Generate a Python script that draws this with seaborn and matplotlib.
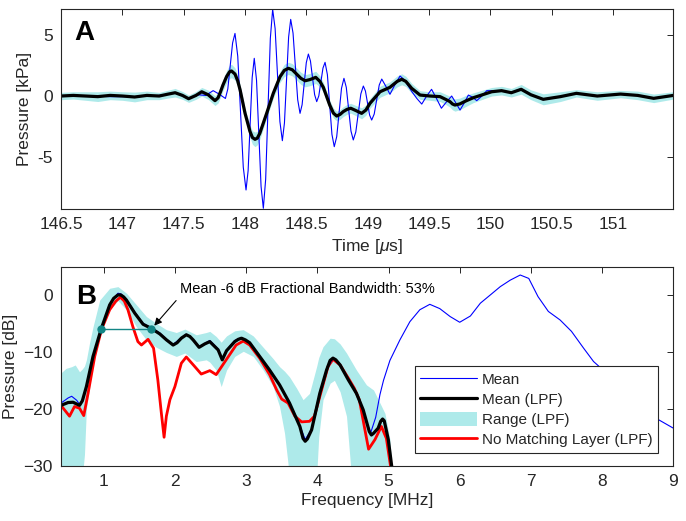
import numpy as np
import pandas as pd
import matplotlib
matplotlib.use("Agg")
import matplotlib.pyplot as plt
import seaborn as sns
from matplotlib.patches import Patch
from matplotlib.lines import Line2D

# ---------------- dados painel A (tempo em us, pressao em kPa) ----------------
t_raw = [146.50, 146.70, 146.90, 147.10, 147.30, 147.43, 147.54, 147.62, 147.68, 147.74,
         147.79, 147.84, 147.8595, 147.8985, 147.918, 147.9405, 147.9855, 148.008, 148.025,
         148.058, 148.075, 148.0935, 148.1305, 148.149, 148.168, 148.206, 148.225, 148.245,
         148.284, 148.304, 148.321, 148.355, 148.372, 148.391, 148.429, 148.448, 148.465,
         148.499, 148.516, 148.533, 148.567, 148.584, 148.601, 148.635, 148.652, 148.671,
         148.708, 148.727, 148.747, 148.786, 148.806, 148.825, 148.863, 148.882, 148.9025,
         148.9435, 148.964, 148.981, 149.015, 149.032, 149.0525, 149.0935, 149.114, 149.15,
         149.181, 149.22, 149.263, 149.30, 149.36, 149.40, 149.44, 149.48, 149.52, 149.56,
         149.60, 149.64, 149.684, 149.72, 149.752, 149.79, 149.82, 149.855, 149.888, 149.93,
         149.97, 150.09, 150.17, 150.25, 150.33, 150.43, 150.57, 150.70, 150.87, 151.06,
         151.20, 151.33, 151.49]
p_raw = [0.00, 0.02, -0.05, -0.05, 0.05, 0.25, -0.20, 0.10, 0.05, 0.44,
         0.15, -0.20, 0.58, 4.35, 5.13, 3.26, -5.83, -7.70, -6.12,
         1.51, 3.09, 1.30, -7.41, -9.20, -6.82, 4.72, 7.10, 5.53,
         -2.09, -3.66, -2.21, 4.83, 6.28, 5.16, -0.30, -1.42, -0.71,
         2.73, 3.44, 2.87, 0.11, -0.46, 0.01, 2.29, 2.76, 1.75,
         -3.14, -4.15, -3.33, 0.63, 1.45, 0.71, -2.86, -3.60, -2.95,
         0.17, 0.82, 0.41, -1.56, -1.97, -1.48, 0.90, 1.39, 0.75,
         0.14, 0.90, 1.64, 1.30, 0.35, -0.20, -0.66, 0.00, 0.55, -0.20,
         -1.00, -0.50, 0.00, -0.60, -1.15, -0.50, 0.08, -0.10, -0.38, 0.00,
         0.44, 0.42, 0.30, 0.60, 0.10, -0.30, -0.05, 0.22, 0.00, 0.16,
         0.05, -0.19, 0.05]

t_lpf = [146.50, 146.60, 146.70, 146.80, 146.90, 147.00, 147.10, 147.20, 147.30, 147.37,
         147.43, 147.49, 147.54, 147.60, 147.647, 147.70, 147.755, 147.78, 147.80, 147.82,
         147.85, 147.875, 147.89, 147.918, 147.94, 147.96, 148.00, 148.04, 148.06, 148.081,
         148.10, 148.12, 148.176, 148.23, 148.285, 148.32, 148.353, 148.385, 148.42, 148.455,
         148.489, 148.53, 148.576, 148.61, 148.638, 148.69, 148.72, 148.747, 148.775, 148.80,
         148.83, 148.861, 148.905, 148.95, 148.985, 149.018, 149.10, 149.18, 149.24, 149.277,
         149.31, 149.358, 149.426, 149.507, 149.589, 149.64, 149.67, 149.69, 149.71, 149.75,
         149.80, 149.86, 150.01, 150.09, 150.17, 150.25, 150.33, 150.43, 150.57, 150.70,
         150.87, 151.06, 151.20, 151.33, 151.49]
p_lpf = [0.00, 0.05, 0.00, -0.05, 0.05, 0.00, -0.08, 0.05, 0.00, 0.15,
         0.27, 0.05, -0.22, 0.05, 0.35, 0.10, -0.38, -0.15, 0.35, 0.90,
         1.60, 2.00, 2.05, 1.80, 1.25, 0.49, -1.42, -2.90, -3.40, -3.55,
         -3.45, -3.06, -1.42, 0.22, 1.58, 2.10, 2.27, 2.15, 1.80, 1.45,
         1.25, 1.35, 1.53, 1.20, 0.71, -0.74, -1.40, -1.64, -1.50, -1.28,
         -1.10, -1.00, -1.20, -1.42, -1.15, -0.60, 0.35, 0.71, 1.20, 1.37,
         1.20, 0.63, 0.08, 0.00, -0.05, -0.30, -0.46, -0.65, -0.74, -0.65,
         -0.40, -0.14, 0.35, 0.44, 0.27, 0.55, 0.10, -0.27, -0.05, 0.22,
         0.00, 0.16, 0.05, -0.19, 0.05]
# meia largura da faixa (Range LPF) em cada ponto
p_half = [0.30, 0.30, 0.35, 0.40, 0.35, 0.35, 0.40, 0.35, 0.30, 0.32,
          0.35, 0.32, 0.30, 0.32, 0.35, 0.38, 0.40, 0.42, 0.45, 0.45,
          0.50, 0.55, 0.55, 0.50, 0.45, 0.40, 0.40, 0.50, 0.55, 0.60,
          0.55, 0.50, 0.40, 0.40, 0.45, 0.50, 0.50, 0.50, 0.50, 0.50,
          0.50, 0.50, 0.50, 0.45, 0.40, 0.40, 0.40, 0.40, 0.40, 0.40,
          0.40, 0.40, 0.42, 0.45, 0.42, 0.40, 0.45, 0.45, 0.45, 0.45,
          0.42, 0.40, 0.35, 0.35, 0.40, 0.42, 0.45, 0.48, 0.50, 0.48,
          0.45, 0.40, 0.35, 0.35, 0.35, 0.40, 0.40, 0.45, 0.40, 0.30,
          0.35, 0.30, 0.35, 0.35, 0.30]

# ---------------- dados painel B (frequencia em MHz, pressao em dB) ----------------
f_mean = [0.40, 0.50, 0.55, 0.62, 0.66, 0.70, 0.757, 0.85, 0.968, 1.084, 1.20, 1.24, 1.319,
          1.436, 1.553, 1.671, 1.788, 1.882, 1.975, 2.09, 2.16, 2.256, 2.34, 2.49, 2.607,
          2.665, 2.725, 2.84, 2.935, 3.05, 3.19, 3.33, 3.47, 3.61, 3.755, 3.83, 3.92, 4.035,
          4.13, 4.22, 4.32, 4.435, 4.55, 4.645, 4.70, 4.75, 4.82, 4.88, 4.93, 5.02, 5.16,
          5.30, 5.44, 5.58, 5.72, 5.866, 6.00, 6.15, 6.29, 6.43, 6.57, 6.71, 6.85, 6.97,
          7.10, 7.245, 7.41, 7.57, 7.74, 7.88, 7.97, 8.20, 8.50, 8.79, 9.00]
db_mean = [-19.0, -18.1, -17.8, -18.5, -19.2, -18.5, -16.0, -10.7, -5.8, -1.6, 0.3, 0.2, -0.8,
           -3.0, -5.0, -5.8, -6.7, -7.8, -8.7, -7.5, -6.9, -7.8, -9.1, -8.0, -9.5,
           -11.3, -9.7, -8.0, -7.5, -8.3, -10.7, -13.1, -15.7, -18.9, -23.0, -25.4, -23.6, -17.2,
           -13.1, -11.1, -12.2, -14.8, -17.2, -20.1, -22.6, -24.2, -21.5, -17.5, -15.0, -11.5, -7.9,
           -4.7, -2.6, -1.65, -2.4, -3.8, -4.8, -3.7, -1.45, 0.0, 1.46, 2.6, 3.5, 2.9,
           -0.3, -2.9, -4.4, -6.4, -9.35, -11.7, -12.7, -15.5, -19.0, -21.9, -23.4]

f_lpf = [0.40, 0.50, 0.57, 0.66, 0.70, 0.757, 0.85, 0.968, 1.084, 1.14, 1.20, 1.24, 1.28,
         1.319, 1.436, 1.553, 1.671, 1.788, 1.882, 1.975, 2.03, 2.09, 2.16, 2.21, 2.256,
         2.34, 2.42, 2.49, 2.607, 2.665, 2.725, 2.84, 2.89, 2.935, 2.99, 3.05, 3.19, 3.33,
         3.47, 3.61, 3.755, 3.80, 3.83, 3.86, 3.92, 4.035, 4.13, 4.18, 4.22, 4.26, 4.32,
         4.435, 4.55, 4.645, 4.73, 4.76, 4.79, 4.855, 4.89, 4.917, 4.94, 4.997, 5.045, 5.10]
db_lpf = [-19.4, -18.9, -18.85, -19.4, -18.6, -16.1, -10.8, -5.85, -1.75, -0.6, 0.0, 0.0, -0.35,
          -0.9, -3.2, -5.15, -5.9, -6.85, -7.9, -8.8, -8.4, -7.6, -7.0, -7.3, -7.9,
          -9.2, -8.6, -8.2, -9.65, -11.4, -9.8, -8.2, -7.8, -7.6, -7.9, -8.4, -10.8, -13.2,
          -15.8, -19.0, -23.1, -25.2, -25.7, -25.3, -23.7, -17.3, -13.2, -11.5, -11.1, -11.4, -12.3,
          -14.9, -17.3, -20.2, -24.0, -24.6, -24.3, -23.4, -22.2, -21.8, -22.1, -25.4, -30.1, -40.0]

f_nml = [0.40, 0.45, 0.52, 0.59, 0.66, 0.72, 0.78, 0.874, 0.968, 1.084, 1.17, 1.235, 1.29,
         1.34, 1.41, 1.48, 1.53, 1.623, 1.70, 1.76, 1.81, 1.848, 1.88, 1.93, 2.00, 2.09,
         2.16, 2.28, 2.37, 2.49, 2.58, 2.72, 2.86, 2.96, 3.05, 3.19, 3.33, 3.43, 3.50,
         3.59, 3.685, 3.78, 3.89, 3.96, 4.06, 4.15, 4.22, 4.32, 4.435, 4.52, 4.59, 4.66,
         4.72, 4.81, 4.90, 4.97, 5.03, 5.08]
db_nml = [-19.4, -20.2, -21.3, -19.6, -19.9, -21.2, -17.3, -10.8, -6.1, -2.6, -1.1, -0.4, -1.1,
          -2.6, -5.6, -8.2, -8.8, -7.8, -9.35, -14.9, -20.8, -25.0, -21.3, -18.4, -16.1, -12.0,
          -10.9, -12.6, -13.9, -13.3, -14.0, -11.4, -8.8, -8.1, -8.8, -11.1, -14.0, -16.7, -18.3,
          -19.0, -21.3, -22.3, -22.2, -21.3, -16.7, -12.6, -11.3, -12.3, -14.6, -16.4, -18.4, -23.1,
          -27.1, -25.4, -23.1, -25.2, -30.2, -40.0]

f_band = [0.40, 0.47, 0.55, 0.60, 0.66, 0.70, 0.73, 0.757, 0.80, 0.85, 0.944, 1.084, 1.20,
          1.32, 1.46, 1.60, 1.74, 1.88, 2.02, 2.14, 2.30, 2.44, 2.49, 2.58, 2.65, 2.725,
          2.84, 2.96, 3.10, 3.24, 3.38, 3.47, 3.54, 3.61, 3.71, 3.80, 3.89, 3.99, 4.02,
          4.08, 4.18, 4.24, 4.32, 4.41, 4.48, 4.55, 4.69, 4.79, 4.88, 4.95, 5.02, 5.045, 5.06]
db_band_hi = [-13.7, -12.9, -12.6, -12.3, -13.5, -13.0, -12.5, -11.4, -8.5, -5.6, -0.9, 1.17, 1.46,
              0.3, -1.75, -3.8, -5.0, -6.1, -6.6, -6.0, -7.0, -6.6, -6.4, -7.3, -8.3, -7.2,
              -6.3, -6.1, -7.2, -9.2, -11.2, -12.6, -13.4, -14.4, -16.4, -18.4, -17.3, -12.6, -11.0,
              -9.1, -7.6, -7.7, -8.6, -10.2, -11.7, -13.2, -15.8, -16.7, -19.0, -20.8, -25.4, -30.0, -32.0]
db_band_lo = [-32.0, -32.0, -32.0, -32.0, -32.0, -32.0, -28.0, -20.0, -16.5, -12.0, -6.7, -2.6, -1.0,
              -2.6, -5.6, -7.9, -9.2, -10.1, -10.8, -10.2, -11.7, -11.4, -11.8, -13.2, -16.1, -13.2,
              -10.8, -9.9, -10.8, -13.2, -16.1, -19.6, -24.3, -32.0, -32.0, -32.0, -32.0, -32.0, -24.9,
              -18.4, -15.5, -15.0, -17.0, -21.3, -32.0, -32.0, -32.0, -32.0, -32.0, -32.0, -32.0, -32.0, -32.0]

# pontos de -6 dB
f_bw = [0.96, 1.67]
db_bw = [-6.0, -6.0]

# ---------------- estilo ----------------
sns.set_theme(style="white")
plt.rcParams['font.family'] = ['Liberation Sans', 'DejaVu Sans']
plt.rcParams['mathtext.fontset'] = 'custom'
plt.rcParams['mathtext.rm'] = 'Liberation Sans'
plt.rcParams['mathtext.it'] = 'Liberation Sans:italic'

cor_faixa = '#aeeaea'
cor_eixo = '#262626'
cor_teal = '#138585'

fig = plt.figure(figsize=(6.86, 5.21), dpi=100)
axA = fig.add_axes([0.0889, 0.5988, 0.8926, 0.3839])
axB = fig.add_axes([0.0889, 0.1061, 0.8926, 0.3808])


def estilo(ax):
    for s in ax.spines.values():
        s.set_color(cor_eixo)
        s.set_linewidth(0.8)
    ax.tick_params(direction='in', top=True, right=True, length=4, width=0.7,
                   color=cor_eixo, labelcolor=cor_eixo, labelsize=12.5, pad=6)


# ---------------- painel A ----------------
lo_a = [p - h for p, h in zip(p_lpf, p_half)]
hi_a = [p + h for p, h in zip(p_lpf, p_half)]
axA.fill_between(t_lpf, lo_a, hi_a, color=cor_faixa, lw=0)
sns.lineplot(x=t_raw, y=p_raw, ax=axA, color='#0000ff', lw=0.8, estimator=None, sort=False)
sns.lineplot(x=t_lpf, y=p_lpf, ax=axA, color='black', lw=2.3, estimator=None, sort=False)
axA.set_xlim(146.5, 151.49)
axA.set_ylim(-9.26, 7.13)
axA.set_xticks(np.arange(146.5, 151.01, 0.5))
axA.set_xticklabels(['146.5', '147', '147.5', '148', '148.5', '149', '149.5', '150', '150.5', '151'])
axA.set_yticks([-5, 0, 5])
axA.set_yticklabels(['-5', '0', '5'])
axA.set_xlabel(r'Time [$\mu$s]', fontsize=12.5, color=cor_eixo, labelpad=3)
axA.set_ylabel('Pressure [kPa]', fontsize=12.5, color=cor_eixo, labelpad=4)
axA.text(0.021, 0.945, 'A', transform=axA.transAxes, fontsize=20, fontweight='bold',
         ha='left', va='top', color='black')
estilo(axA)

# ---------------- painel B ----------------
axB.fill_between(f_band, db_band_lo, db_band_hi, color=cor_faixa, lw=0)
sns.lineplot(x=f_nml, y=db_nml, ax=axB, color='#ff0000', lw=2.0, estimator=None, sort=False)
sns.lineplot(x=f_mean, y=db_mean, ax=axB, color='#0000ff', lw=0.8, estimator=None, sort=False)
sns.lineplot(x=f_lpf, y=db_lpf, ax=axB, color='black', lw=2.3, estimator=None, sort=False)
axB.plot(f_bw, db_bw, color=cor_teal, lw=1.0, marker='o', ms=5, zorder=5)
axB.annotate('Mean -6 dB Fractional Bandwidth: 53%', xy=(1.71, -5.4), xytext=(2.07, 1.0),
             fontsize=10.5, ha='left', va='center', color='black',
             arrowprops=dict(arrowstyle='-|>', color='black', lw=0.8, shrinkA=1, shrinkB=0,
                             mutation_scale=11, relpos=(0.0, 0.0)))
axB.set_xlim(0.4, 9)
axB.set_ylim(-30, 4.85)
axB.set_xticks(range(1, 10))
axB.set_yticks([-30, -20, -10, 0])
axB.set_xlabel('Frequency [MHz]', fontsize=12.5, color=cor_eixo, labelpad=3)
axB.set_ylabel('Pressure [dB]', fontsize=12.5, color=cor_eixo, labelpad=4)
axB.text(0.024, 0.915, 'B', transform=axB.transAxes, fontsize=20, fontweight='bold',
         ha='left', va='top', color='black')
estilo(axB)

handles = [Line2D([], [], color='#0000ff', lw=0.8),
           Line2D([], [], color='black', lw=2.3),
           Patch(facecolor=cor_faixa, edgecolor='none'),
           Line2D([], [], color='#ff0000', lw=2.0)]
labels = ['Mean', 'Mean (LPF)', 'Range (LPF)', 'No Matching Layer (LPF)']
leg = axB.legend(handles, labels, loc='upper left', bbox_to_anchor=(0.578, 0.5025),
                 borderaxespad=0, fontsize=11, frameon=True, fancybox=False, framealpha=1,
                 handlelength=3.7, handleheight=1.1, handletextpad=0.35, labelspacing=0.3,
                 borderpad=0.35)
leg.get_frame().set_edgecolor(cor_eixo)
leg.get_frame().set_linewidth(0.8)

plt.savefig('out.png', dpi=100)
